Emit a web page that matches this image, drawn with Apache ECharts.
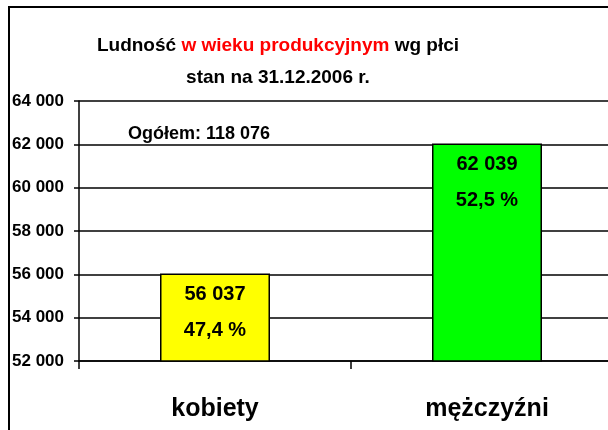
<!DOCTYPE html>
<html><head><meta charset="utf-8">
<script src="https://cdn.jsdelivr.net/npm/echarts@6/dist/echarts.min.js"></script>
<style>html,body{margin:0;padding:0;background:#fff}#c{width:608px;height:430px}</style>
</head><body><div id="c"></div>
<script>
var categories = ['kobiety', 'mężczyźni'];
var values = [56037, 62039];
var percents = ['47,4 %', '52,5 %'];
var barColors = ['#FFFF00', '#00FF00'];
var yMin = 52000, yMax = 64000, yInterval = 2000;
var totalText = 'Ogółem: 118 076';

var FONT = "'Liberation Sans', Arial, sans-serif";
function fmt(v){ return String(v).replace(/\B(?=(\d{3})+(?!\d))/g, ' '); }

var chart = echarts.init(document.getElementById('c'));
chart.setOption({
  animation: false,
  backgroundColor: '#fff',
  textStyle: { fontFamily: FONT },
  title: [{
    text: '{b|Ludność }{r|w wieku produkcyjnym}{b| wg płci}\n{b|stan na 31.12.2006 r.}',
    left: 273, top: 25, textAlign: 'center',
    textStyle: {
      rich: {
        b: { fontFamily: FONT, fontSize: 19, fontWeight: 'bold', color: '#000', lineHeight: 32 },
        r: { fontFamily: FONT, fontSize: 19, fontWeight: 'bold', color: '#FF0000', lineHeight: 32 }
      }
    }
  }, {
    text: totalText, left: 123, top: 120,
    textStyle: { fontFamily: FONT, fontSize: 18, fontWeight: 'bold', color: '#000' }
  }],
  graphic: [{
    type: 'rect', silent: true, z: 100,
    shape: { x: 9, y: 7, width: 800, height: 600 },
    style: { fill: 'none', stroke: '#000', lineWidth: 2 }
  }],
  grid: { left: 79, top: 101, width: 544, bottom: 69, outerBoundsMode: 'none', containLabel: false },
  xAxis: {
    type: 'category', data: categories,
    axisLine: { lineStyle: { color: '#000', width: 1.5 } },
    axisTick: { show: true, length: 8, lineStyle: { color: '#000', width: 1.5 } },
    axisLabel: { color: '#000', fontFamily: FONT, fontSize: 25, fontWeight: 'bold', margin: 36 }
  },
  yAxis: {
    type: 'value', min: yMin, max: yMax, interval: yInterval,
    axisLine: { show: true, lineStyle: { color: '#000', width: 1.5 } },
    axisTick: { show: true, length: 5, lineStyle: { color: '#000', width: 1.5 } },
    axisLabel: { color: '#000', fontFamily: FONT, fontSize: 17, fontWeight: 'bold', margin: 15, formatter: fmt },
    splitLine: { show: true, lineStyle: { color: '#000', width: 1.5 } }
  },
  series: [{
    type: 'bar', barWidth: 110,
    data: values.map(function(v, i){
      return { value: v, itemStyle: { color: barColors[i], borderColor: '#000', borderWidth: 1.5 } };
    }),
    label: {
      show: true, position: 'insideTop', distance: 3,
      fontFamily: FONT, fontSize: 20, fontWeight: 'bold', color: '#000', lineHeight: 36,
      formatter: function(p){ return fmt(p.value) + '\n' + percents[p.dataIndex]; }
    }
  }]
});
</script></body></html>
